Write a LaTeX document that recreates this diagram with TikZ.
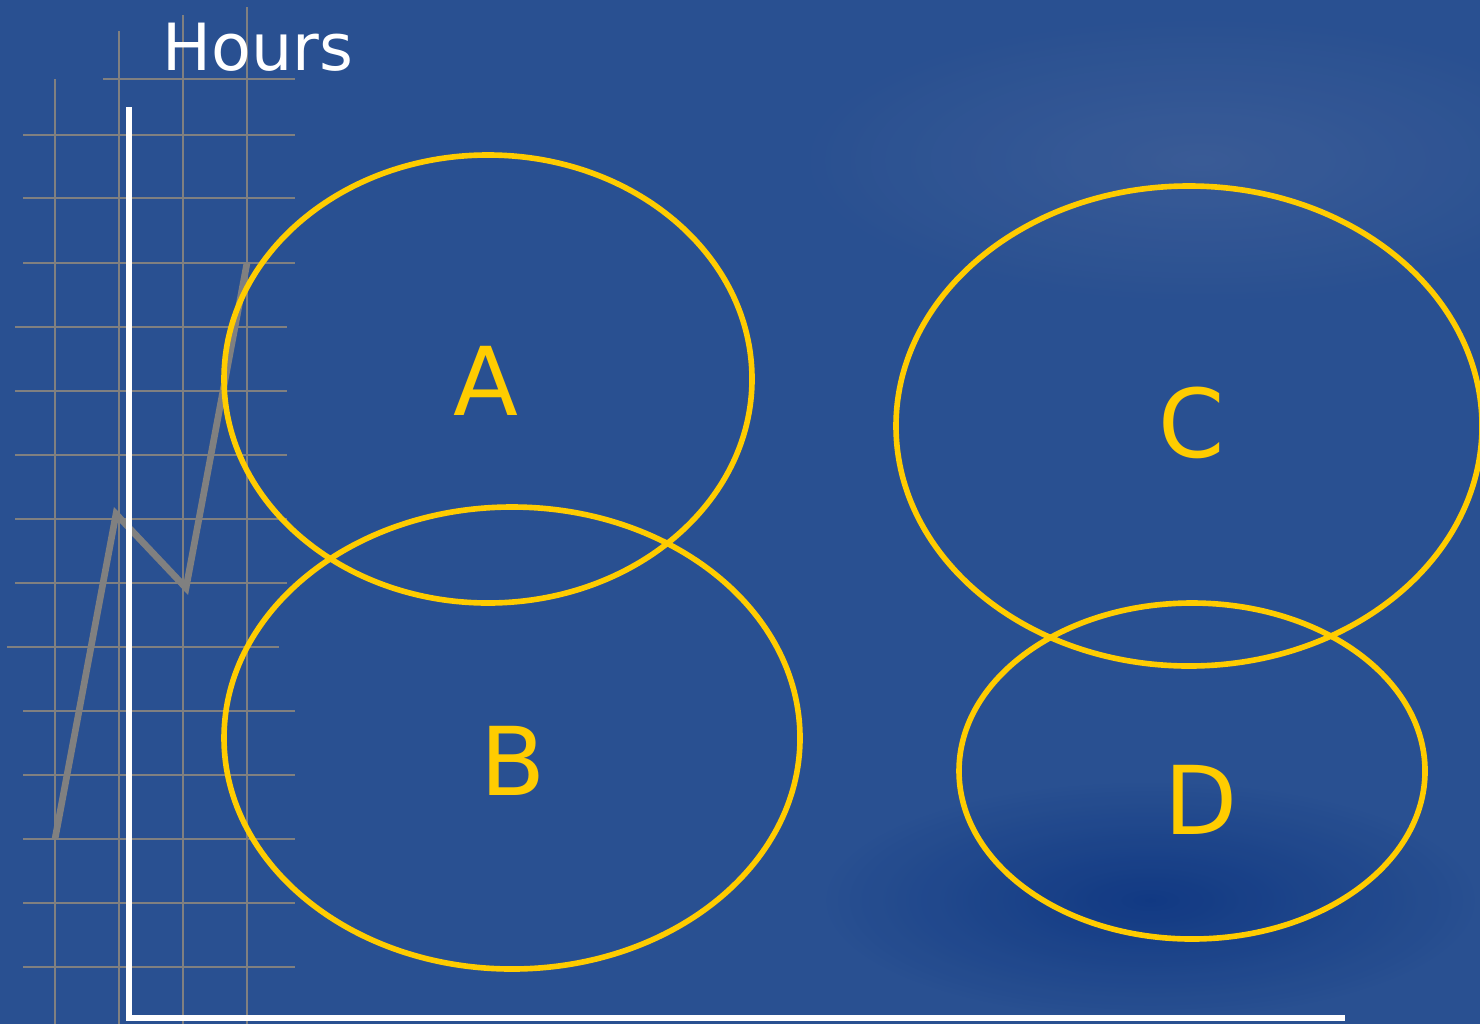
\documentclass[tikz,border=0pt]{standalone}
\usepackage{fontspec}
\usepackage{xcolor}
\usepackage{tikz}
\setmainfont{DejaVu Sans}
\definecolor{skyblue}{RGB}{41,80,145}
\definecolor{deepblue}{RGB}{12,52,128}
\definecolor{paleblue}{RGB}{62,94,152}
\definecolor{gridgray}{RGB}{128,128,128}
\definecolor{ringgold}{RGB}{255,204,0}
\usetikzlibrary{positioning, calc}

\begin{document}
\begin{tikzpicture}[
    x=0.01cm, y=-0.01cm,
    gridline/.style={draw=gridgray, line width=0.5pt},
    axisline/.style={draw=white, line width=1.9pt},
    trendline/.style={draw=gridgray, line width=1.9pt, line join=miter},
    ring/.style={draw=ringgold, line width=1.6pt},
    letter/.style={text=ringgold, font=\fontsize{27}{30}\selectfont, inner sep=0pt},
]
\useasboundingbox (0,0) rectangle (1480,1024);
% background
\fill [skyblue] (0,0) rectangle (1480,1024);
\shade [inner color=paleblue, outer color=skyblue, opacity=0.8] (1200,160) ellipse (420 and 150);
\shade [inner color=deepblue, outer color=skyblue, opacity=0.8] (1150,900) ellipse (330 and 120);

% grid
\foreach \gx/\gtop in {55/79, 119/31, 183/15, 247/7}
    \draw [gridline] (\gx,\gtop) -- (\gx,1024);
\draw [gridline] (103,79) -- (295,79);
\foreach \gy in {135,198,263,711,775,839,903,967}
    \draw [gridline] (23,\gy) -- (295,\gy);
\foreach \gy in {327,391,455,519,583}
    \draw [gridline] (15,\gy) -- (287,\gy);
\draw [gridline] (7,647) -- (279,647);

% trend
\coordinate (p1) at (55,839);
\coordinate (p2) at (116,514);
\coordinate (p3) at (186,588);
\coordinate (p4) at (247,263);
\draw [trendline] (p1) -- (p2) -- (p3) -- (p4);

% axes
\coordinate (top) at (129,107);
\coordinate (origin) at (129,1018);
\coordinate (right) at (1345,1018);
\draw [axisline] (top) -- (origin) -- (right);
\node [text=white, font=\fontsize{18.5}{22}\selectfont, inner sep=0pt] (hours) at (258,47) {Hours};

% groups
\draw [ring] (488,379) ellipse (264 and 224);
\draw [ring] (512,738) ellipse (288 and 231);
\draw [ring] (1189,426) ellipse (293 and 240);
\draw [ring] (1192,771) ellipse (233 and 168);
\node [letter] (a) at (486,381) {A};
\node [letter] (b) at (513,761) {B};
\node [letter] (c) at (1192,423) {C};
\node [letter] (d) at (1201,800) {D};
\end{tikzpicture}
\end{document}
